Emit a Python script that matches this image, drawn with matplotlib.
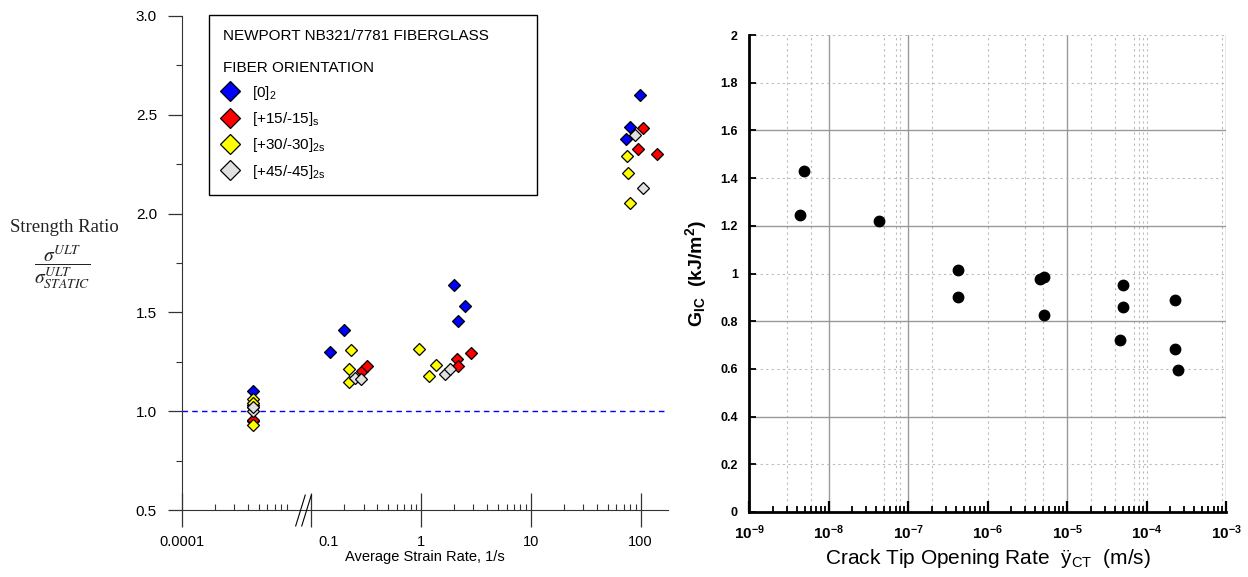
import numpy as np
import matplotlib
matplotlib.use('Agg')
import matplotlib.pyplot as plt
from matplotlib.path import Path
from matplotlib.transforms import ScaledTranslation
from matplotlib.ticker import FixedLocator, FuncFormatter, LogLocator, NullFormatter

plt.rcParams['font.family'] = ['Liberation Sans', 'DejaVu Sans']
plt.rcParams['mathtext.fontset'] = 'custom'
plt.rcParams['mathtext.rm'] = 'Liberation Sans'
plt.rcParams['mathtext.it'] = 'Liberation Sans:italic'
plt.rcParams['mathtext.bf'] = 'Liberation Sans:bold'
plt.rcParams['mathtext.default'] = 'regular'

# --- left chart: strength ratio vs average strain rate ---
rate_0 = [0.00044, 0.00044, 0.00044, 0.147, 0.199, 1.99, 2.19, 2.52, 73, 80, 99]
ratio_0 = [1.10, 1.02, 0.95, 1.30, 1.41, 1.64, 1.455, 1.53, 2.38, 2.44, 2.60]
rate_15 = [0.00044, 0.00044, 0.286, 0.322, 2.12, 2.15, 2.82, 94, 105, 140]
ratio_15 = [1.03, 0.955, 1.205, 1.23, 1.265, 1.228, 1.295, 2.325, 2.435, 2.30]
rate_30 = [0.00044, 0.00044, 0.00044, 0.221, 0.222, 0.227, 0.948, 1.17, 1.37, 76, 77, 81]
ratio_30 = [1.06, 1.04, 0.93, 1.215, 1.15, 1.31, 1.315, 1.18, 1.235, 2.29, 2.205, 2.055]
rate_45 = [0.00044, 0.00044, 0.249, 0.28, 1.66, 1.82, 89, 106]
ratio_45 = [1.00, 1.02, 1.17, 1.165, 1.19, 1.215, 2.40, 2.13]

series = [
    (rate_0, ratio_0, '#0000ff', '[0]$_2$'),
    (rate_15, ratio_15, '#ff0000', '[+15/-15]$_s$'),
    (rate_30, ratio_30, '#ffff00', '[+30/-30]$_{2s}$'),
    (rate_45, ratio_45, '#e0e0e0', '[+45/-45]$_{2s}$'),
]

left_major = [0.0001, 0.1, 1, 10, 100]
left_major_labels = ['0.0001', '0.1', '1', '10', '100']

# --- right chart: G_IC vs crack tip opening rate ---
ct_rate = [4.38e-9, 4.92e-9, 4.32e-8, 4.26e-7, 4.3e-7, 4.57e-6, 5.1e-6, 5.1e-6,
           5.0e-5, 5.0e-5, 4.64e-5, 2.31e-4, 2.27e-4, 2.51e-4]
g_ic = [1.247, 1.431, 1.221, 1.016, 0.901, 0.976, 0.987, 0.826,
        0.952, 0.861, 0.720, 0.890, 0.685, 0.597]

# broken log axis: 1e-4 .. ~1.3e-3, then 0.085 .. upward
_xp = np.log10([1e-10, 0.00126, 0.0851, 1e10])
_fp = np.array([-6.0, 1.10, 1.11, 10 + 2.1818])


def fwd(x):
    x = np.clip(np.asarray(x, dtype=float), 1e-300, None)
    return np.interp(np.log10(x), _xp, _fp)


def inv(y):
    return 10 ** np.interp(np.asarray(y, dtype=float), _fp, _xp)


fig = plt.figure(figsize=(12.48, 5.77), dpi=100)
W, H = 1248, 577

ax = fig.add_axes([182 / W, 1 - 510 / H, (668 - 182) / W, (510 - 16) / H])
ax.set_xscale('function', functions=(fwd, inv))
ax.set_xlim(1e-4, 178)
ax.set_ylim(0.5, 3.0)

for xs, ys, c, lab in series:
    ax.plot(xs, ys, ls='none', marker='D', ms=6.6, mfc=c, mec='black', mew=0.9,
            label=lab, zorder=3)

ax.axhline(1.0, color='#0000ff', lw=1, ls=(0, (4, 3)), zorder=2)

for s in ['top', 'right']:
    ax.spines[s].set_visible(False)
ax.spines['left'].set_color('#333333')
ax.spines['bottom'].set_color('#333333')

minor_left = [k * 1e-4 for k in range(2, 10)]
for d in [0.1, 1, 10]:
    minor_left += [k * d for k in range(2, 10)]
ax.set_xticks(left_major, left_major_labels)
ax.xaxis.set_minor_locator(FixedLocator(minor_left))
ax.xaxis.set_minor_formatter(NullFormatter())
ax.tick_params(axis='x', which='major', direction='inout', length=24, width=0.9,
               labelsize=10.5, pad=6, color='#333333')
ax.tick_params(axis='x', which='minor', direction='in', length=4, width=0.8, color='#333333')

ax.set_yticks(np.arange(0.5, 3.01, 0.5))
ax.set_yticks(np.arange(0.75, 3.0, 0.5), minor=True)
ax.yaxis.set_major_formatter(FuncFormatter(lambda v, p: '%.1f' % v))
ax.tick_params(axis='y', which='major', direction='out', length=10, width=0.9,
               labelsize=11, pad=8, color='#333333')
ax.tick_params(axis='y', which='minor', direction='out', length=4, width=0.8, color='#333333')
ax.set_xlabel('Average Strain Rate, 1/s', fontsize=10.5, labelpad=1)

for lbl in ax.get_xticklabels():
    if lbl.get_text() == '0.1':
        lbl.set_transform(lbl.get_transform() + ScaledTranslation(12 / 72, 0, fig.dpi_scale_trans))

# axis break marks
break_x = inv(1.105)
brk = Path([(-0.5, -1), (0.12, 1), (-0.12, -1), (0.5, 1)],
           [Path.MOVETO, Path.LINETO, Path.MOVETO, Path.LINETO])
ax.plot([break_x], [0.5], ls='none', marker=brk, ms=23, mfc='none', mec='black',
        mew=0.8, clip_on=False, zorder=5)

# left y label
fig.text(64 / W, 1 - 228 / H, 'Strength Ratio', family='Liberation Serif',
         fontsize=13.5, ha='center', va='center', color='#222222')
fig.text(62 / W, 1 - 267 / H,
         r'$\dfrac{\mathit{\sigma}^{\mathit{ULT}}}{\mathit{\sigma}^{\mathit{ULT}}_{\mathit{STATIC}}}$',
         math_fontfamily='stix', fontsize=14, ha='center', va='center', color='#222222')

leg = ax.legend(loc='upper left', bbox_to_anchor=(209 / W, 1 - 202 / H, 328 / W, 187 / H),
                bbox_transform=fig.transFigure, mode='expand', borderaxespad=0,
                title='NEWPORT NB321/7781 FIBERGLASS\n\nFIBER ORIENTATION',
                title_fontsize=11, fontsize=11, alignment='left', markerscale=1.5,
                handlelength=1.0, handletextpad=0.9, labelspacing=0.55, borderpad=0.9,
                fancybox=False, framealpha=1, edgecolor='black')
leg.get_frame().set_linewidth(1.0)

# --- right chart ---
ax2 = fig.add_axes([749 / W, 1 - 512 / H, (1226 - 749) / W, (512 - 35) / H])
ax2.set_xscale('log')
ax2.set_xlim(1e-9, 1e-3)
ax2.set_ylim(0, 2)

solid_x = [1e-8, 1e-7, 1e-5, 1e-3]
dotted_x = [1e-6, 1e-4, 3e-9, 6e-9, 5e-8, 7e-8, 8e-8, 2e-7, 3e-6, 5e-6, 2e-5, 4e-5,
            7e-5, 8e-5, 9e-5, 9e-4]
solid_y = [0.4, 0.8, 1.2, 1.6]
dotted_y = [0.2, 0.6, 1.0, 1.4, 1.8, 2.0]
for v in solid_x:
    ax2.axvline(v, color='#999999', lw=1.0, zorder=1)
for v in dotted_x:
    ax2.axvline(v, color='#bbbbbb', lw=0.8, ls=(0, (2, 3)), zorder=1)
for v in solid_y:
    ax2.axhline(v, color='#999999', lw=1.0, zorder=1)
for v in dotted_y:
    ax2.axhline(v, color='#bbbbbb', lw=0.8, ls=(0, (2, 3)), zorder=1)

ax2.plot(ct_rate, g_ic, ls='none', marker='o', ms=7.5, color='black', zorder=3)

for s in ['top', 'right']:
    ax2.spines[s].set_visible(False)
for s in ['left', 'bottom']:
    ax2.spines[s].set_linewidth(2)

ax2.xaxis.set_major_locator(LogLocator(base=10, numticks=20))
ax2.xaxis.set_minor_locator(LogLocator(base=10, subs=np.arange(2, 10), numticks=20))
ax2.xaxis.set_minor_formatter(NullFormatter())
ax2.xaxis.set_major_formatter(FuncFormatter(
    lambda v, p: r'$\mathbf{10^{%d}}$' % round(np.log10(v))))
ax2.tick_params(axis='x', which='major', direction='in', length=8, width=1.6,
                labelsize=11, pad=8)
ax2.tick_params(axis='x', which='minor', direction='in', length=4, width=1.3)

ax2.set_yticks(np.arange(0, 2.01, 0.2))
ax2.yaxis.set_major_formatter(FuncFormatter(lambda v, p: '%g' % round(v, 1)))
ax2.tick_params(axis='y', which='major', direction='in', length=5, width=1.3,
                labelsize=9, pad=8)
for lbl in ax2.get_yticklabels():
    lbl.set_fontweight('bold')

ax2.set_xlabel(r'Crack Tip Opening Rate  ÿ$_{CT}$  (m/s)', fontsize=15, labelpad=4)
ax2.set_ylabel(r'G$_{\mathbf{IC}}$  (kJ/m$^{\mathbf{2}}$)', fontsize=14, fontweight='bold',
               labelpad=8)

fig.savefig('out.png', dpi=100)
